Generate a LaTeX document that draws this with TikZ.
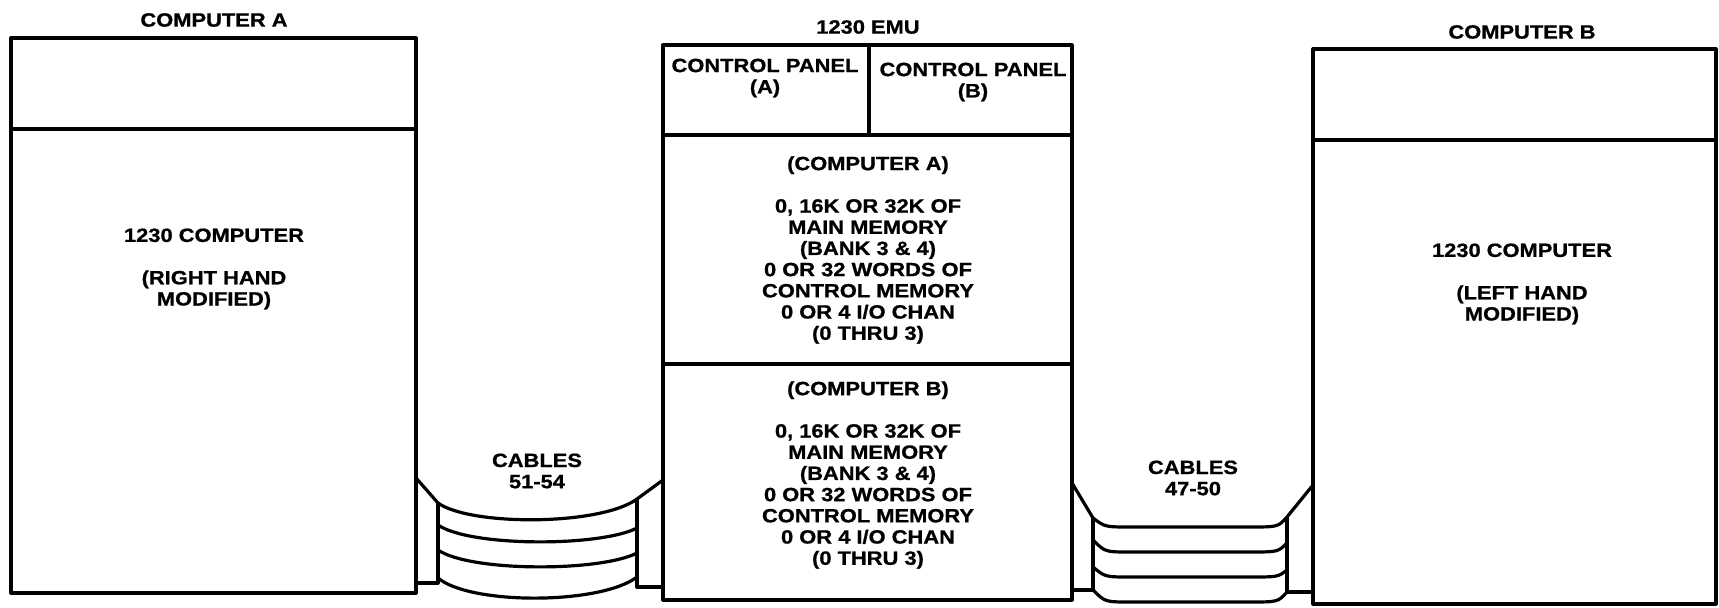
\documentclass[tikz,border=0pt]{standalone}
\usepackage{fontspec}
\setmainfont[FakeStretch=1.14, BoldFeatures={FakeBold=0.9}]{Liberation Sans}
\usetikzlibrary{calc}
\tikzset{
  lbl/.style={font=\bfseries\fontsize{9.6}{10.6}\selectfont, align=center, inner sep=0pt},
  unit/.style={line width=1.6pt, line join=round}
}

\begin{document}
\begin{tikzpicture}[x=0.5pt, y=-0.5pt, unit]
  \useasboundingbox (0,0) rectangle (1719,608);
  % Coordinates
  \coordinate (A1) at (11,38);
  \coordinate (A2) at (416,593);
  \coordinate (E1) at (663,45);
  \coordinate (E2) at (1072,600);
  \coordinate (B1) at (1313,49);
  \coordinate (B2) at (1716,604);
  \coordinate (la) at (416,478);
  \coordinate (lb) at (438,503);
  \coordinate (lc) at (637,499);
  \coordinate (ld) at (663,480);
  \coordinate (ra) at (1072,483);
  \coordinate (rb) at (1093,518);
  \coordinate (rc) at (1287,517);
  \coordinate (rd) at (1313,485);

  % Boxes
  \draw (A1) rectangle (A2);
  \draw (11,129) -- (416,129);
  \draw (E1) rectangle (E2);
  \draw (663,135) -- (1072,135);
  \draw (869,45) -- (869,135);
  \draw (663,364) -- (1072,364);
  \draw (B1) rectangle (B2);
  \draw (1313,140) -- (1716,140);

  % Labels
  \node[lbl] (labA) at (214,20) {COMPUTER A};
  \node[lbl] (labE) at (868,27) {1230 EMU};
  \node[lbl] (labB) at (1522,32) {COMPUTER B};
  \node[lbl] (cpA) at (765,78) {CONTROL PANEL\\(A)};
  \node[lbl] (cpB) at (973,82) {CONTROL PANEL\\(B)};
  \node[lbl] (memA) at (868,250) {(COMPUTER A)\\[10.6pt]0, 16K OR 32K OF\\MAIN MEMORY\\(BANK 3 \& 4)\\0 OR 32 WORDS OF\\CONTROL MEMORY\\0 OR 4 I/O CHAN\\(0 THRU 3)};
  \node[lbl] (memB) at (868,475) {(COMPUTER B)\\[10.6pt]0, 16K OR 32K OF\\MAIN MEMORY\\(BANK 3 \& 4)\\0 OR 32 WORDS OF\\CONTROL MEMORY\\0 OR 4 I/O CHAN\\(0 THRU 3)};
  \node[lbl] (txtA) at (214,269) {1230 COMPUTER\\[10.6pt](RIGHT HAND\\MODIFIED)};
  \node[lbl] (txtB) at (1522,284) {1230 COMPUTER\\[10.6pt](LEFT HAND\\MODIFIED)};
  \node[lbl] (cabA) at (537,471) {CABLES\\51-54};
  \node[lbl] (cabB) at (1193,478) {CABLES\\47-50};

  % Cables 51-54
  \draw (la) -- (lb) .. controls (470,526) and (600,526) .. (lc) -- (ld);
  \draw (416,583) -- (438,583) -- (lb);
  \draw (lc) -- (637,587) -- (663,587);
  \draw (438,525) .. controls (470,547) and (600,547) .. (637,528);
  \draw (438,550) .. controls (470,572) and (600,572) .. (637,553);
  \draw (438,578) .. controls (470,605) and (600,605) .. (637,577);

  % Cables 47-50
  \draw (ra) -- (rb) .. controls (1105,527) .. (1130,527) -- (1250,527) .. controls (1278,527) .. (rc) -- (rd);
  \draw (1072,590) -- (1093,590) -- (rb);
  \draw (rc) -- (1287,592) -- (1313,592);
  \draw (1093,540) .. controls (1105,552) .. (1130,552) -- (1250,552) .. controls (1278,552) .. (1287,543);
  \draw (1093,567) .. controls (1105,577) .. (1130,577) -- (1250,577) .. controls (1278,577) .. (1287,570);
  \draw (1093,590) .. controls (1105,602) .. (1130,602) -- (1250,602) .. controls (1278,602) .. (1287,592);
\end{tikzpicture}
\end{document}
